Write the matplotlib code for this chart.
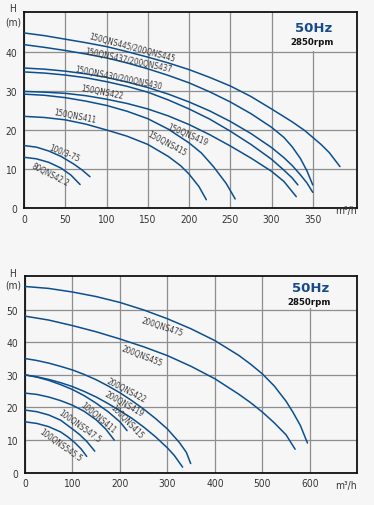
import matplotlib
matplotlib.use("Agg")
import matplotlib.pyplot as plt
from matplotlib.patches import Rectangle

W_PX, H_PX, DPI = 374, 506, 100
BG = "#f6f6f6"
BLUE = "#0b4f8f"
GRID = "#8e8e8e"
TXT = "#333333"

# ---------------------------------------------------------------- top chart data
# flow Q (m3/h) and head H (m)
q445 = [0, 25, 50, 75, 100, 125, 150, 175, 200, 225, 250, 275, 300, 325, 340, 350, 360, 370, 383]
h445 = [45.0, 44.3, 43.4, 42.5, 41.5, 40.2, 38.8, 37.3, 35.6, 33.6, 31.4, 28.7, 25.5, 22.2,
        20.0, 18.2, 16.4, 14.3, 10.7]
q437 = [0, 25, 50, 75, 100, 125, 150, 175, 200, 225, 250, 275, 300, 315, 325, 335, 343, 350]
h437 = [42.0, 41.3, 40.5, 39.6, 38.6, 37.3, 35.8, 34.1, 32.2, 29.9, 27.3, 24.3, 20.8, 18.2,
        15.8, 12.8, 9.6, 6.0]
q430 = [0, 25, 50, 75, 100, 125, 150, 175, 200, 225, 250, 275, 300, 315, 325, 335, 343, 350]
h430 = [36.0, 35.7, 35.2, 34.5, 33.6, 32.4, 31.0, 29.3, 27.3, 25.0, 22.3, 19.2, 15.6, 13.0,
        11.0, 8.6, 6.5, 4.1]
q422 = [0, 25, 50, 75, 100, 125, 150, 175, 200, 225, 250, 275, 300, 315, 325, 332]
h422 = [35.0, 34.7, 34.2, 33.5, 32.5, 31.3, 29.8, 27.8, 25.5, 22.9, 19.8, 16.4, 12.6, 9.8,
        7.8, 6.0]
q419 = [0, 25, 50, 75, 100, 125, 150, 175, 200, 225, 250, 275, 300, 315, 330]
h419 = [30.0, 29.8, 29.5, 28.9, 28.0, 26.9, 25.5, 23.7, 21.5, 18.9, 16.0, 12.9, 9.5, 6.9, 3.0]
q415 = [0, 25, 50, 75, 100, 125, 150, 175, 200, 215, 230, 245, 256]
h415 = [29.3, 29.0, 28.4, 27.5, 26.4, 24.9, 23.0, 20.3, 16.8, 14.2, 10.6, 6.4, 2.4]
q411 = [0, 25, 50, 75, 100, 125, 150, 175, 190, 200, 212, 221]
h411 = [23.6, 23.3, 22.7, 21.6, 20.1, 18.5, 16.4, 13.3, 10.9, 8.8, 5.6, 2.2]
q375 = [0, 15, 30, 45, 60, 70, 80]
h375 = [16.1, 15.7, 14.7, 13.3, 11.4, 9.9, 8.1]
q422s = [0, 15, 30, 45, 57, 68]
h422s = [13.1, 12.7, 11.8, 10.3, 8.5, 6.1]

top_names = ["150QNS445/200QNS445", "150QNS437/200QNS437", "150QNS430/200QNS430",
             "150QNS422", "150QNS419", "150QNS415", "150QNS411", "100/3-75", "80QNS42.2"]

# ------------------------------------------------------------- bottom chart data
q475 = [0, 50, 100, 150, 200, 250, 300, 350, 400, 450, 475, 500, 525, 550, 565, 580, 595]
h475 = [57.1, 56.5, 55.4, 54.0, 52.2, 49.9, 47.2, 44.1, 40.5, 36.0, 33.3, 30.3, 26.6, 21.9,
        18.4, 14.5, 9.1]
q455 = [0, 50, 100, 150, 200, 250, 300, 350, 400, 450, 475, 500, 525, 550, 569]
h455 = [48.0, 46.8, 45.1, 43.2, 41.0, 38.6, 35.9, 32.6, 28.8, 24.1, 21.5, 18.6, 15.3, 11.6, 7.2]
q422b = [0, 25, 50, 75, 100, 125, 150, 175, 200, 225, 250, 275, 300, 325, 340, 349]
h422b = [35.0, 34.4, 33.6, 32.6, 31.5, 30.1, 28.5, 26.6, 24.5, 22.1, 19.5, 16.6, 13.4, 9.3,
         6.2, 2.8]
q419b = [0, 25, 50, 75, 100, 125, 150, 175, 200, 225, 250, 275, 300, 315, 332]
h419b = [30.0, 29.4, 28.6, 27.6, 26.4, 24.9, 23.2, 21.2, 19.0, 16.7, 14.0, 11.0, 7.6, 5.2, 1.7]
q415b = [0, 25, 50, 75, 100, 125, 150, 175, 200, 215]
h415b = [30.0, 29.3, 28.3, 27.0, 25.5, 23.6, 21.3, 18.7, 15.6, 12.9]
q411b = [0, 25, 50, 75, 100, 125, 150, 170, 188]
h411b = [24.4, 24.0, 23.2, 22.1, 20.7, 18.8, 16.2, 13.4, 10.0]
q5475 = [0, 25, 50, 75, 100, 115, 130, 147]
h5475 = [19.2, 18.7, 17.7, 16.1, 13.4, 11.7, 9.6, 6.6]
q5455 = [0, 25, 50, 75, 90, 105, 118, 130]
h5455 = [15.6, 15.1, 14.1, 12.5, 11.0, 9.2, 7.3, 5.0]

bot_names = ["200QNS475", "200QNS455", "200QNS422", "200QNS419",
             "100QNS415", "100QNS411", "100QNS547.5", "100QNS545.5"]

# label placement (Q, H, rotation deg) -- layout only
top_lab_pos = [(131, 41.3, -15), (126, 38.0, -12), (115, 33.5, -11.5), (95, 30.0, -11),
               (198, 19.1, -23), (173, 16.8, -28), (62, 23.7, -11), (49, 14.5, -22),
               (31.5, 8.8, -27)]
bot_lab_pos = [(288, 44.8, -18), (246, 36.0, -21), (213, 25.5, -27.5), (208, 21.3, -29),
               (215, 15.8, -46), (154, 17.0, -40), (116, 14.4, -35.5), (74, 8.5, -35.5)]

FONT = dict(family="DejaVu Sans", fontstretch="condensed")

fig = plt.figure(figsize=(W_PX / DPI, H_PX / DPI), dpi=DPI)
fig.patch.set_facecolor(BG)


def fx(px):
    return px / W_PX


def fy(py):
    return 1 - py / H_PX


def panel(box_px, xmax, ymax, xticks, yticks, curves, names, lab_pos, cover,
          hz_xy, unit_y):
    left, top, right, bottom = box_px
    ax = fig.add_axes([fx(left), fy(bottom), (right - left) / W_PX, (bottom - top) / H_PX])
    ax.set_facecolor(BG)
    ax.set_xlim(0, xmax)
    ax.set_ylim(0, ymax)
    ax.set_xticks(xticks)
    ax.set_yticks(yticks)
    ax.set_axisbelow(True)
    ax.grid(True, color=GRID, lw=0.9)
    ax.tick_params(axis="both", length=0, labelsize=7.3, colors=TXT)
    ax.tick_params(axis="x", pad=3.8)
    ax.tick_params(axis="y", pad=4.8)
    for lab in ax.get_xticklabels() + ax.get_yticklabels():
        lab.set_fontstretch("condensed")
    for s in ax.spines.values():
        s.set_color("#111111")
        s.set_linewidth(1.3)
    # blank patch behind the 50Hz tag (hides the grid there)
    ax.add_patch(Rectangle((cover[0], cover[1]), xmax - cover[0], ymax - cover[1],
                           facecolor=BG, edgecolor="none", zorder=1))
    for q, h in curves:
        ax.plot(q, h, color=BLUE, lw=1.1, zorder=3, solid_capstyle="round",
                solid_joinstyle="round")
    for name, (q, h, rot) in zip(names, lab_pos):
        ax.text(q, h, name, rotation=rot, rotation_mode="anchor", ha="center",
                va="center", fontsize=5.8, color="#3a3a3a", zorder=4, **FONT)
    # axis captions
    fig.text(fx(12.5), fy(unit_y[0]), "H", ha="center", va="center",
             fontsize=7.3, color=TXT, **FONT)
    fig.text(fx(13.3), fy(unit_y[1]), "(m)", ha="center", va="center",
             fontsize=7.3, color=TXT, **FONT)
    fig.text(fx(346), fy(unit_y[2]), "m³/h", ha="center", va="center",
             fontsize=7.3, color=TXT, **FONT)
    fig.text(fx(hz_xy[0]), fy(hz_xy[1]), "50Hz", ha="center", va="center",
             fontsize=9.5, fontweight="bold", color="#174a8b")
    fig.text(fx(hz_xy[0] - 1), fy(hz_xy[1] + 13.5), "2850rpm", ha="center", va="center",
             fontsize=6.2, fontweight="bold", color="#111111")
    return ax


top_curves = [(q445, h445), (q437, h437), (q430, h430), (q422, h422), (q419, h419),
              (q415, h415), (q411, h411), (q375, h375), (q422s, h422s)]
bot_curves = [(q475, h475), (q455, h455), (q422b, h422b), (q419b, h419b),
              (q415b, h415b), (q411b, h411b), (q5475, h5475), (q5455, h5455)]

panel((24, 13.3, 357.3, 209.3), 404, 50.3, range(0, 351, 50), range(0, 41, 10),
      top_curves, top_names, top_lab_pos, (310, 40.4), (313.5, 28.6), (9.3, 22.7, 211.3))
panel((25, 276.7, 357.3, 473.7), 700, 60.4, range(0, 601, 100), range(0, 51, 10),
      bot_curves, bot_names, bot_lab_pos, (520, 50.5), (310.5, 288.8), (274, 286, 485.7))

fig.savefig("out.png", dpi=DPI, facecolor=BG)
